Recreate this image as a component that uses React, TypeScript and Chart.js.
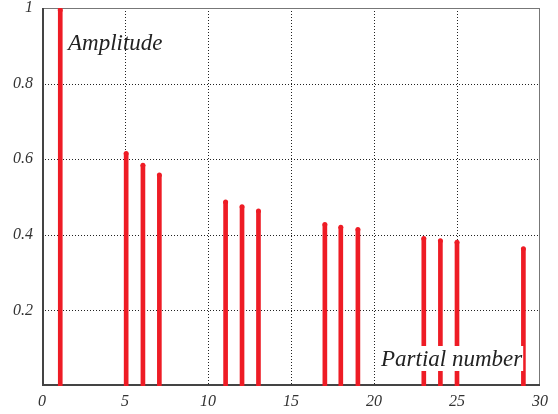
import React, { useEffect, useRef } from "react";
import { Chart, registerables } from "chart.js";

Chart.register(...registerables);

const partials = [1.1, 5.07, 6.08, 7.07, 11.06, 12.05, 13.04, 17.04, 18.0, 19.03, 23.0, 24.0, 25.0, 29.0];
const amplitudes = [0.995, 0.615, 0.584, 0.558, 0.487, 0.474, 0.463, 0.427, 0.42, 0.414, 0.39, 0.384, 0.38, 0.363];
const xTicks = [0, 5, 10, 15, 20, 25, 30];
const yTicks = [0.2, 0.4, 0.6, 0.8, 1];
const yTitle = "Amplitude";
const xTitle = "Partial number";

const RED = "#ee1c25";
const SERIF = "'Liberation Serif', 'DejaVu Serif', serif";

const decorPlugin = {
  id: "decor",
  beforeDatasetsDraw(chart: any) {
    const { ctx, chartArea, scales } = chart;
    const { left, right, top, bottom } = chartArea;
    ctx.save();
    ctx.strokeStyle = "#222";
    ctx.lineWidth = 1;
    ctx.setLineDash([1, 2]);
    for (const v of xTicks) {
      if (v === 0 || v === 30) continue;
      const x = Math.round(scales.x.getPixelForValue(v)) + 0.5;
      ctx.beginPath();
      ctx.moveTo(x, top);
      ctx.lineTo(x, bottom);
      ctx.stroke();
    }
    for (const v of yTicks) {
      if (v === 1) continue;
      const y = Math.round(scales.y.getPixelForValue(v)) + 0.5;
      ctx.beginPath();
      ctx.moveTo(left, y);
      ctx.lineTo(right, y);
      ctx.stroke();
    }
    ctx.setLineDash([]);
    ctx.strokeStyle = "#777";
    ctx.lineWidth = 1;
    ctx.strokeRect(left + 0.5, top + 0.5, right - left - 1, bottom - top - 1);
    ctx.strokeStyle = "#444";
    ctx.lineWidth = 2;
    ctx.beginPath();
    ctx.moveTo(left + 1, top);
    ctx.lineTo(left + 1, bottom - 1);
    ctx.lineTo(right, bottom - 1);
    ctx.stroke();
    ctx.restore();
  },
  afterDatasetsDraw(chart: any) {
    const { ctx } = chart;
    ctx.save();
    ctx.fillStyle = "#222";
    ctx.textBaseline = "alphabetic";
    ctx.textAlign = "left";
    ctx.font = "italic 23px " + SERIF;
    ctx.fillText(yTitle, 68, 50);
    const w = ctx.measureText(xTitle).width;
    ctx.fillStyle = "#ffffff";
    ctx.fillRect(378, 346, w + 4, 25);
    ctx.fillStyle = "#222";
    ctx.fillText(xTitle, 381, 366);
    ctx.restore();
  },
};

export default function App() {
  const ref = useRef<HTMLCanvasElement>(null);
  useEffect(() => {
    if (!ref.current) return;
    const points = partials.map((p, i) => ({ x: p, y: amplitudes[i] }));
    const chart = new Chart(ref.current, {
      type: "bar",
      data: {
        datasets: [
          {
            type: "bar",
            data: points,
            backgroundColor: RED,
            barThickness: 4,
            borderWidth: 0,
          } as any,
          {
            type: "scatter",
            data: points,
            backgroundColor: RED,
            borderWidth: 0,
            pointRadius: 2.5,
          } as any,
        ],
      },
      options: {
        animation: false,
        responsive: true,
        maintainAspectRatio: false,
        layout: { autoPadding: false, padding: { left: 0, right: 18, top: 8, bottom: 0 } },
        plugins: { legend: { display: false }, tooltip: { enabled: false } },
        scales: {
          x: {
            type: "linear",
            min: 0,
            max: 30,
            offset: false,
            grid: { display: false, drawTicks: false },
            border: { display: false },
            afterFit: (s: any) => { s.height = 28; s.paddingLeft = 0; s.paddingRight = 0; },
            afterBuildTicks: (s: any) => { s.ticks = xTicks.map((v) => ({ value: v })); },
            ticks: {
              padding: 6,
              color: "#333",
              font: { family: SERIF, style: "italic", size: 16 },
              callback: (v: any) => String(v),
              maxRotation: 0,
            },
          },
          y: {
            type: "linear",
            min: 0,
            max: 1,
            grid: { display: false, drawTicks: false },
            border: { display: false },
            afterFit: (s: any) => { s.width = 42; s.paddingTop = 0; s.paddingBottom = 0; },
            afterBuildTicks: (s: any) => { s.ticks = yTicks.map((v) => ({ value: v })); },
            ticks: {
              padding: 9,
              color: "#333",
              font: { family: SERIF, style: "italic", size: 16, lineHeight: 1 },
              callback: (v: any) => String(Math.round(v * 10) / 10),
            },
          },
        },
      },
      plugins: [decorPlugin],
    });
    return () => chart.destroy();
  }, []);
  return (
    <div style={{ position: "absolute", left: 0, top: 0, width: 558, height: 414, background: "#fff" }}>
      <canvas ref={ref} />
    </div>
  );
}
